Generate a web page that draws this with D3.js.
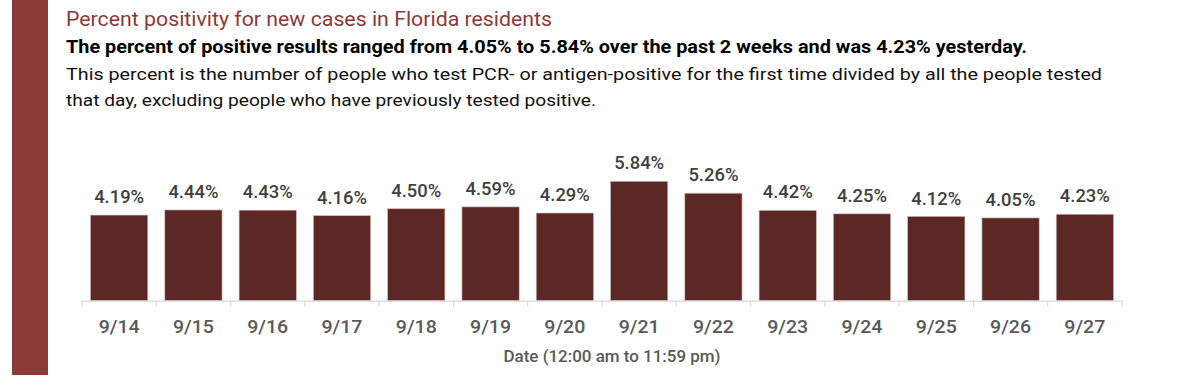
<!DOCTYPE html>
<html><head><meta charset="utf-8">
<script src="https://cdn.jsdelivr.net/npm/d3@7"></script>
<style>
body{margin:0;background:#fff;}
text{font-family:"Roboto",sans-serif;}
</style></head>
<body>
<svg id="c" width="1200" height="383"></svg>
<script>
const categories = ["9/14","9/15","9/16","9/17","9/18","9/19","9/20","9/21","9/22","9/23","9/24","9/25","9/26","9/27"];
const values = [4.19,4.44,4.43,4.16,4.50,4.59,4.29,5.84,5.26,4.42,4.25,4.12,4.05,4.23];
const yDomain = [0,6];

const svg = d3.select("#c");
svg.append("rect").attr("x",12).attr("y",0).attr("width",36).attr("height",375).attr("fill","#8b3a38");

const headers = [
  {t:"Percent positivity for new cases in Florida residents", y:26, size:20, w:486, fill:"#8b3a38", weight:"normal"},
  {t:"The percent of positive results ranged from 4.05% to 5.84% over the past 2 weeks and was 4.23% yesterday.", y:53, size:17.5, w:961, fill:"#000", weight:"bold"},
  {t:"This percent is the number of people who test PCR- or antigen-positive for the first time divided by all the people tested", y:80, size:17, w:1036, fill:"#111", weight:"normal"},
  {t:"that day, excluding people who have previously tested positive.", y:106, size:17, w:530, fill:"#111", weight:"normal"}
];
headers.forEach(h=>{
  svg.append("text").attr("x",66).attr("y",h.y).attr("font-size",h.size).attr("font-weight",h.weight)
    .attr("fill",h.fill).attr("textLength",h.w).attr("lengthAdjust","spacingAndGlyphs").text(h.t);
});

const x = d3.scaleBand().domain(categories).range([82,1122]).paddingInner(0.23).paddingOuter(0.115);
const y = d3.scaleLinear().domain(yDomain).range([300.7,300.7-122.6]);

const g = svg.append("g");
g.selectAll("rect.bar").data(values).join("rect").attr("class","bar")
  .attr("x",(d,i)=>x(categories[i])).attr("width",x.bandwidth())
  .attr("y",d=>y(d)).attr("height",d=>y(0)-y(d))
  .attr("fill","#5c2825").attr("stroke","#c9b3b1").attr("stroke-width",0.6);

g.selectAll("text.val").data(values).join("text").attr("class","val")
  .attr("x",(d,i)=>x(categories[i])+x.bandwidth()/2).attr("y",d=>y(d)-12)
  .attr("text-anchor","middle").attr("font-size",18.5).attr("font-weight",500).attr("fill","#404040")
  .attr("textLength",50).attr("lengthAdjust","spacingAndGlyphs")
  .text(d=>d.toFixed(2)+"%");

const n = categories.length;
const bounds = d3.range(n+1).map(i=>x.range()[0]+i*(x.range()[1]-x.range()[0])/n);
g.append("line").attr("x1",82).attr("x2",1122).attr("y1",y(0)+0.5).attr("y2",y(0)+0.5).attr("stroke","#d9d9d9").attr("stroke-width",1.2);
g.selectAll("line.tk").data(bounds).join("line").attr("class","tk")
  .attr("x1",d=>d).attr("x2",d=>d).attr("y1",y(0)).attr("y2",y(0)+6).attr("stroke","#d9d9d9").attr("stroke-width",1.2);

g.selectAll("text.cat").data(categories).join("text").attr("class","cat")
  .attr("x",d=>x(d)+x.bandwidth()/2).attr("y",333).attr("text-anchor","middle")
  .attr("font-size",18.5).attr("font-weight",500).attr("fill","#595959")
  .attr("textLength",41).attr("lengthAdjust","spacingAndGlyphs").text(d=>d);

svg.append("text").attr("x",612).attr("y",362).attr("text-anchor","middle").attr("font-size",17)
  .attr("font-weight",500).attr("fill","#595959").attr("textLength",217).attr("lengthAdjust","spacingAndGlyphs")
  .text("Date (12:00 am to 11:59 pm)");
</script>
</body></html>
